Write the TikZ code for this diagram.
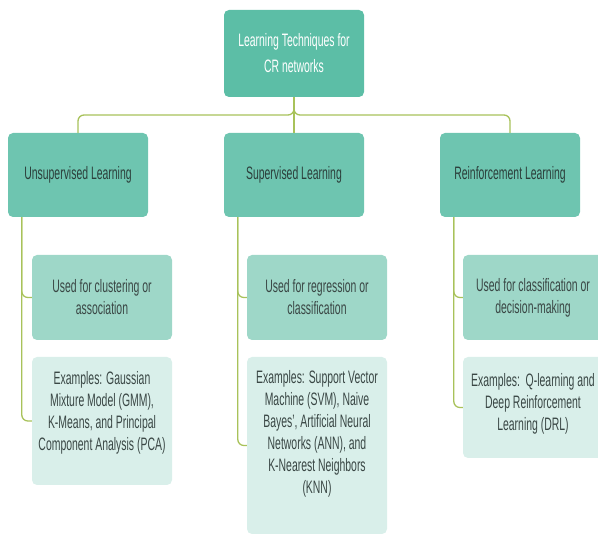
\documentclass[tikz,border=0pt]{standalone}
\usepackage{fontspec}
\setmainfont{Liberation Sans}[FakeStretch=0.58]
\definecolor{rootgreen}{HTML}{5CBEA6}
\definecolor{topgreen}{HTML}{6EC5B0}
\definecolor{usegreen}{HTML}{9ED7C8}
\definecolor{expgreen}{HTML}{D9EFEA}
\definecolor{linegreen}{HTML}{A8C25A}
\definecolor{textgray}{HTML}{3A4745}
\definecolor{darkgray}{HTML}{2C3F3B}
\begin{document}
\begin{tikzpicture}[x=1pt,y=-1pt,
box/.style={rectangle, rounded corners=5pt, align=center, inner sep=0pt, minimum width=140pt},
toplvl/.style={box, fill=topgreen, minimum height=84pt, text=darkgray, font=\fontsize{18}{26}\selectfont},
usebox/.style={box, fill=usegreen, minimum height=85pt, text=textgray, font=\fontsize{18}{22}\selectfont},
expbox/.style={box, fill=expgreen, text=textgray, font=\fontsize{18}{22}\selectfont},
conn/.style={draw=linegreen, line width=1.3pt, rounded corners=6pt}]
\useasboundingbox (0,0) rectangle (598,534);
% root and the three kinds
\node[box, fill=rootgreen, minimum height=87pt, text=white, font=\fontsize{18}{26}\selectfont] (root) at (294,53.5) {Learning Techniques for\\CR networks};
\node[toplvl] (unsup) at (78,175) {Unsupervised Learning};
\node[toplvl] (sup) at (294,175) {Supervised Learning};
\node[toplvl] (reinf) at (510,175) {Reinforcement Learning};
% what they are used for
\node[usebox] (unsupuse) at (102,297.5) {Used for clustering or\\association};
\node[usebox] (supuse) at (317,297.5) {Used for regression or\\classification};
\node[usebox] (reinfuse) at (533,297.5) {Used for classification or\\decision-making};
% examples
\node[expbox, minimum height=128pt, text depth=20pt] (unsupex) at (102,421) {Examples: Gaussian\\Mixture Model (GMM),\\K-Means, and Principal\\Component Analysis (PCA)};
\node[expbox, minimum height=177pt, text depth=28pt] (supex) at (317,445.5) {Examples: Support Vector\\Machine (SVM), Naive\\Bayes', Artificial Neural\\Networks (ANN), and\\K-Nearest Neighbors\\(KNN)};
\node[expbox, minimum height=101pt, text depth=11pt] (reinfex) at (533,407.5) {Examples:\ \ Q-learning and\\Deep Reinforcement\\Learning (DRL)};
% bracket
\coordinate (bar) at (0,115);
\draw[conn] (root.south) |- (bar -| unsup.north) -- (unsup.north);
\draw[conn] (root.south) |- (bar -| reinf.north) -- (reinf.north);
\draw[conn] (root.south) -- (sup.north);
% branches
\draw[conn] ([xshift=14pt]unsup.south west) |- (unsupuse.west);
\draw[conn] ([xshift=14pt]unsup.south west) |- (unsupex.west);
\draw[conn] ([xshift=14pt]sup.south west) |- (supuse.west);
\draw[conn] ([xshift=14pt]sup.south west) |- (supex.west);
\draw[conn] ([xshift=14pt]reinf.south west) |- (reinfuse.west);
\draw[conn] ([xshift=14pt]reinf.south west) |- (reinfex.west);
\end{tikzpicture}
\end{document}
